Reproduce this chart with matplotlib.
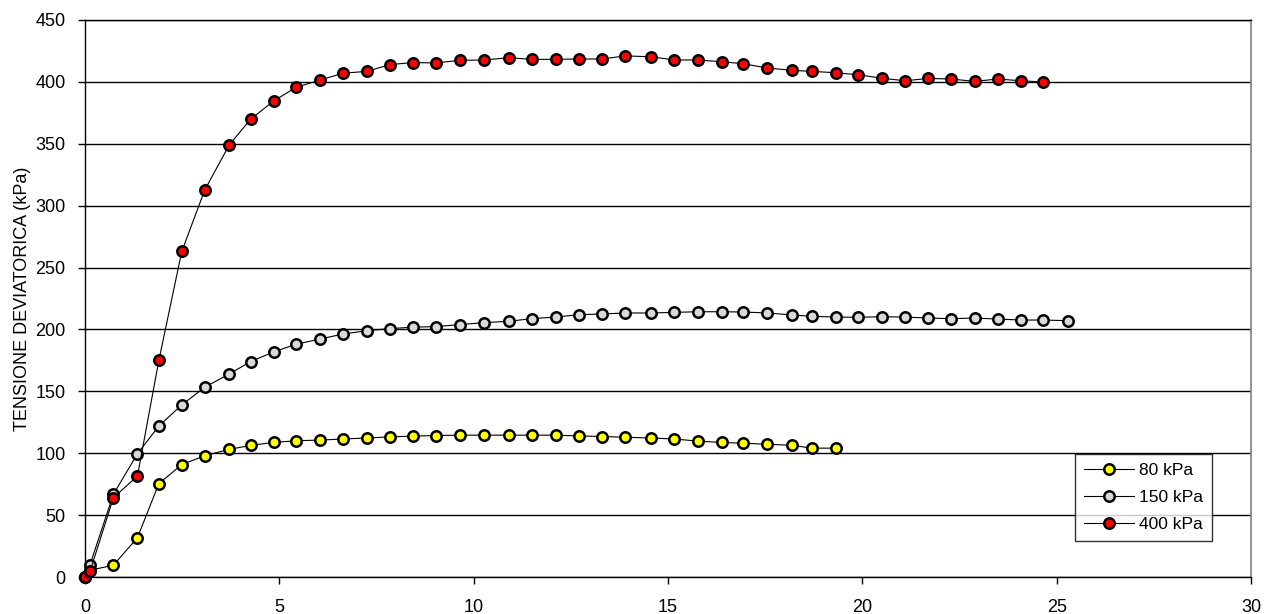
import matplotlib
matplotlib.use("Agg")
import matplotlib.pyplot as plt

plt.rcParams['font.family'] = ['Liberation Sans', 'DejaVu Sans']

# deformazione assiale (%) - stessi passi per le tre prove
strain = [0, 0.13, 0.73, 1.35, 1.90, 2.49, 3.08, 3.71, 4.26, 4.85,
          5.43, 6.05, 6.64, 7.25, 7.85, 8.43, 9.02, 9.65, 10.26, 10.91,
          11.51, 12.11, 12.70, 13.31, 13.90, 14.57, 15.16, 15.76, 16.38, 16.93,
          17.56, 18.20, 18.70, 19.31, 19.88, 20.50, 21.10, 21.70, 22.29, 22.89,
          23.48, 24.09, 24.65, 25.28]

# tensione deviatorica (kPa)
q_80 = [0, 5.5, 9.5, 31.8, 75.4, 90.8, 98, 103.1, 106.3, 108.7,
        110.1, 110.6, 111.5, 112.3, 113.2, 113.8, 114.3, 114.6, 114.6, 114.6,
        114.6, 114.6, 114.0, 113.5, 112.9, 112.3, 111.5, 109.8, 108.7, 108.1,
        107.2, 106.4, 104.1, 104.1]
q_150 = [0, 10, 66.8, 99.6, 122, 139, 153.3, 164, 174, 181.8,
         188, 192.3, 196.3, 199, 200.7, 201.8, 202.3, 203.9, 205.5, 206.6,
         208.8, 210, 211.9, 212.5, 213.3, 213.3, 213.8, 214.3, 214.3, 214.1,
         213.3, 211.7, 210.6, 210, 209.8, 210.3, 210, 209.2, 208.7, 209.2,
         208.4, 207.6, 207.6, 207.1]
q_400 = [0, 4.6, 64, 81.6, 175, 263, 312.6, 349, 369.8, 384.5,
         395.6, 401.5, 407, 408.5, 414, 415.6, 415.3, 417.4, 417.7, 419.5,
         418.2, 418.2, 418.5, 418.5, 421, 420.3, 417.7, 417.7, 416.3, 414.7,
         411.2, 409.3, 408.5, 407.4, 405.8, 403, 400.9, 402.8, 402.3, 400.4,
         402.3, 400.9, 399.9]

labels = ['80 kPa', '150 kPa', '400 kPa']
colors = ['#ffff00', '#d9d9d9', '#ff0000']

fig = plt.figure(figsize=(12.71, 6.14), dpi=100)
ax = fig.add_axes([85 / 1271, 1 - 577 / 614, (1251 - 85) / 1271, (577 - 20) / 614])

for q, lab, col in zip([q_80, q_150, q_400], labels, colors):
    ax.plot(strain[:len(q)], q, color='black', linewidth=0.8,
            marker='o', markersize=7.5, markerfacecolor=col,
            markeredgecolor='black', markeredgewidth=1.8, label=lab, clip_on=False)

ax.set_xlim(0, 30)
ax.set_ylim(0, 450)
ax.set_xticks(range(0, 31, 5))
ax.set_yticks(range(0, 451, 50))
ax.yaxis.grid(True, color='black', linewidth=1)
ax.set_axisbelow(True)

for s in ['left', 'bottom', 'top']:
    ax.spines[s].set_color('black')
    ax.spines[s].set_linewidth(1)
ax.spines['right'].set_color('#808080')
ax.spines['right'].set_linewidth(1.2)

ax.tick_params(axis='both', direction='out', length=5, width=1, labelsize=13, colors='black')
ax.tick_params(axis='x', pad=11)
ax.tick_params(axis='y', pad=9)
ax.set_ylabel('TENSIONE DEVIATORICA (kPa)', fontsize=13, labelpad=3)

leg = ax.legend(loc='upper right', bbox_to_anchor=((1212 - 85) / 1166, (577 - 454) / 557),
                fontsize=12.5, frameon=True, fancybox=False, edgecolor='black',
                handlelength=2.9, handletextpad=0.3, labelspacing=0.7,
                borderpad=0.5, borderaxespad=0)
leg.get_frame().set_linewidth(1)

plt.savefig('out.png', dpi=100)
